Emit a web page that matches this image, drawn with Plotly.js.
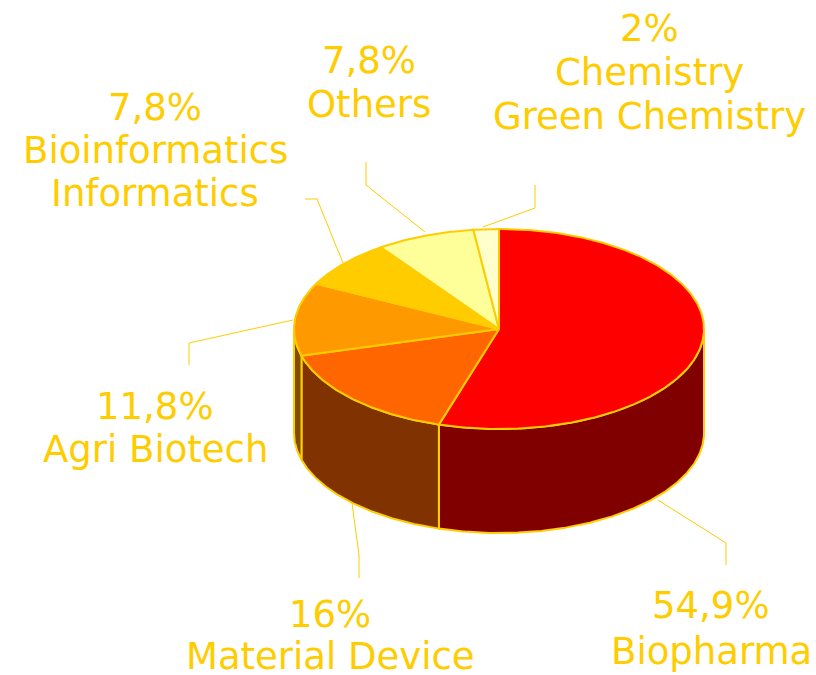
<!DOCTYPE html>
<html>
<head>
<meta charset="utf-8">
<script src="https://cdn.plot.ly/plotly-3.0.1.min.js"></script>
<style>html,body{margin:0;padding:0;background:#fff;}#chart{width:816px;height:675px;}</style>
</head>
<body>
<div id="chart"></div>
<script>
// ---- data ----
const categories = ['Biopharma', 'Material Device', 'Agri Biotech', 'Bioinformatics<br>Informatics', 'Others', 'Chemistry<br>Green Chemistry'];
const shares = [54.9, 16, 11.8, 7.8, 7.8, 2];
const shareLabels = ['54,9%', '16%', '11,8%', '7,8%', '7,8%', '2%'];

// ---- styles ----
const topColors = ['#FF0000', '#FF6600', '#FF9900', '#FFCC00', '#FFFF99', '#FFFFCC'];
const sideColors = ['#800000', '#803300', '#804D00', '#806600', '#80804D', '#808066'];
const edgeColor = '#FFCC00';
const labelColor = '#FFCC00';

// ---- pie geometry (layout) ----
const cx = 499, cy = 329, rx = 205, ry = 100, depth = 104;
function pt(deg, dy) {
  const r = deg * Math.PI / 180;
  return [cx + rx * Math.sin(r), cy - ry * Math.cos(r) + (dy || 0)];
}

// label placement (layout): centre x and y of first line, line spacing
const labelPos = [
  {x: 711, y: 605, dy: 46}, {x: 330, y: 614, dy: 42}, {x: 155, y: 406, dy: 43},
  {x: 155, y: 107, dy: 43}, {x: 369, y: 60, dy: 44}, {x: 649, y: 28, dy: 44}
];
const leaderPaths = [
  [[658, 500], [726, 543], [726, 565]],
  [[352, 503], [359, 555], [359, 578]],
  [[293, 320], [189, 343], [189, 365]],
  [[343, 263], [317, 199], [305, 199]],
  [[425, 232], [366, 185], [366, 162]],
  [[483, 227], [535, 208], [535, 185]]
];

const total = shares.reduce((a, b) => a + b, 0);
const angles = [0];
shares.forEach(v => angles.push(angles[angles.length - 1] + v / total * 360));

const sideTraces = [], topTraces = [];
shares.forEach((v, i) => {
  const a0 = angles[i], a1 = angles[i + 1];
  const s = Math.max(a0, 90), e = Math.min(a1, 270);
  if (s < e) {
    const xs = [], ys = [];
    const n = Math.max(2, Math.ceil((e - s) / 0.5));
    for (let k = 0; k <= n; k++) { const p = pt(s + (e - s) * k / n, 0); xs.push(p[0]); ys.push(p[1]); }
    for (let k = n; k >= 0; k--) { const p = pt(s + (e - s) * k / n, depth); xs.push(p[0]); ys.push(p[1]); }
    xs.push(xs[0]); ys.push(ys[0]);
    sideTraces.push({type: 'scatter', mode: 'lines', x: xs, y: ys, fill: 'toself',
      fillcolor: sideColors[i], line: {color: edgeColor, width: 2}, hoverinfo: 'skip', showlegend: false});
  }
  const xs = [cx], ys = [cy];
  const n = Math.max(2, Math.ceil((a1 - a0) / 0.5));
  for (let k = 0; k <= n; k++) { const p = pt(a0 + (a1 - a0) * k / n, 0); xs.push(p[0]); ys.push(p[1]); }
  xs.push(cx); ys.push(cy);
  topTraces.push({type: 'scatter', mode: 'lines', x: xs, y: ys, fill: 'toself',
    fillcolor: topColors[i], line: {color: edgeColor, width: 2}, hoverinfo: 'skip', showlegend: false});
});

const annotations = [];
categories.forEach((c, i) => {
  const lines = [shareLabels[i]].concat(c.split('<br>'));
  lines.forEach((t, j) => {
    annotations.push({
      x: labelPos[i].x, y: labelPos[i].y + j * labelPos[i].dy, xref: 'x', yref: 'y',
      text: t, showarrow: false, xanchor: 'center', yanchor: 'middle', align: 'center',
      font: {family: 'DejaVu Sans, sans-serif', size: 37, color: labelColor}
    });
  });
});

const shapes = leaderPaths.map(p => ({
  type: 'path', xref: 'x', yref: 'y',
  path: 'M' + p.map(q => q[0] + ',' + q[1]).join(' L'),
  line: {color: labelColor, width: 1}
}));

const layout = {
  width: 816, height: 675,
  margin: {l: 0, r: 0, t: 0, b: 0},
  paper_bgcolor: '#fff', plot_bgcolor: '#fff',
  xaxis: {range: [0, 816], visible: false, fixedrange: true},
  yaxis: {range: [675, 0], visible: false, fixedrange: true},
  annotations: annotations,
  shapes: shapes,
  showlegend: false
};

Plotly.newPlot('chart', sideTraces.concat(topTraces), layout, {displayModeBar: false, staticPlot: true});
</script>
</body>
</html>
